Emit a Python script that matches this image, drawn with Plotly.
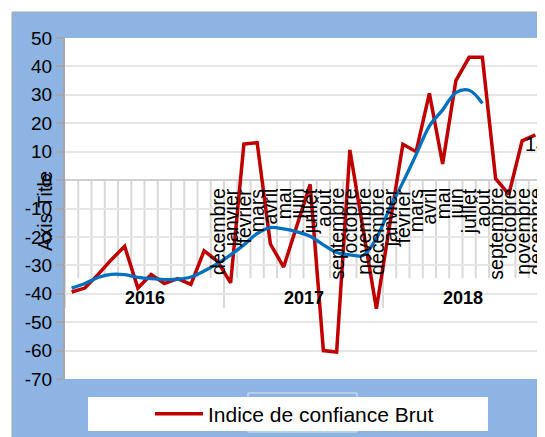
import plotly.graph_objects as go

# ---- data ----
months_fr = ["janvier", "février", "mars", "avril", "mai", "juin", "juillet",
             "août", "septembre", "octobre", "novembre", "décembre"]
years = ["2016", "2017", "2018"]
# month labels shown on the axis (2016 Jan-Nov are blank in the source)
month_labels = [""] * 11 + ["décembre"] + months_fr + months_fr

indice_brut = [-39.4, -38.0, -33.2, -28.0, -23.3, -38.0, -33.2, -36.4, -34.7, -36.7,
               -24.9, -28.5, -36.2, 12.7, 13.2, -22.5, -30.6, -16.0, -1.5, -60.0,
               -60.5, 10.6, -17.0, -45.3, -16.0, 12.6, 10.0, 30.5, 5.7, 35.0,
               43.2, 43.2, 0.5, -5.0, 13.8, 15.9]
tendance = [-38.0, -36.4, -34.3, -33.2, -33.3, -34.2, -34.7, -35.0, -34.9, -34.1,
            -32.0, -29.4, -26.3, -22.8, -18.8, -16.7, -17.2, -18.2, -19.8, -22.8,
            -25.5, -26.3, -26.5, -20.5, -10.0, -0.8, 9.0, 19.0, 24.7, 30.8,
            31.6, 27.0]
y_ticks = [50, 40, 30, 20, 10, 0, -10, -20, -30, -40, -50, -60, -70]

FONT = "Liberation Sans"
n = len(indice_brut)
xi = list(range(n))

fig = go.Figure()
fig.add_trace(go.Scatter(
    x=xi, y=indice_brut, mode="lines", name="Indice de confiance Brut",
    line=dict(color="#C00000", width=3.5), showlegend=True))
fig.add_trace(go.Scatter(
    x=xi[:len(tendance)], y=tendance, mode="lines", name="Tendance",
    line=dict(color="#0070C0", width=3.3, shape="spline", smoothing=1.0),
    showlegend=False))

# page has an 8px body margin: figure origin sits at page (8, 8)
OFF = 8
W, H = 545 - OFF, 437 - OFF
L, T = 65 - OFF, 38 - OFF
R = W - (542 - OFF)
B = H - (379 - OFF)
pw, ph = W - L - R, H - T - B


def px_x(p):
    return (p - OFF - L) / pw


def px_y(p):
    return (H - B - (p - OFF)) / ph


shapes = []
# outer blue chart area
shapes.append(dict(type="rect", xref="paper", yref="paper", layer="below",
                   x0=px_x(12), x1=px_x(560), y0=px_y(450), y1=px_y(12),
                   fillcolor="#8EB4E3", line=dict(color="#A6A6A6", width=1)))
# white plot area
shapes.append(dict(type="rect", xref="paper", yref="paper", layer="below",
                   x0=0, x1=1, y0=0, y1=1, fillcolor="white", line=dict(width=0)))
# faint hidden title box
shapes.append(dict(type="rect", xref="paper", yref="paper", layer="below",
                   x0=px_x(248), x1=px_x(357), y0=px_y(432), y1=px_y(393),
                   fillcolor="rgba(0,0,0,0)", line=dict(color="#DCE6F2", width=1)))
# legend box
shapes.append(dict(type="rect", xref="paper", yref="paper", layer="below",
                   x0=px_x(88), x1=px_x(488), y0=px_y(431), y1=px_y(397),
                   fillcolor="white", line=dict(width=0)))
# category tick lines (month boundaries and year separators)
for k in range(n + 1):
    is_year = (k % 12 == 0)
    shapes.append(dict(type="line", xref="x", yref="y", layer="below",
                       x0=k - 0.5, x1=k - 0.5, y0=0, y1=(-45 if is_year else -34.5),
                       line=dict(color="#D9D9D9", width=2)))

annotations = []
for i, lab in enumerate(month_labels):
    if lab:
        annotations.append(dict(x=i, y=0, xref="x", yref="y", text=lab,
                                textangle=-90, showarrow=False, xanchor="center",
                                yanchor="top", yshift=-6,
                                font=dict(family=FONT, size=19.5, color="black")))
for j, yr in enumerate(years):
    annotations.append(dict(x=12 * j + 5.5, y=-41.6, xref="x", yref="y",
                            text="<b>%s</b>" % yr, showarrow=False,
                            font=dict(family=FONT, size=18, color="black")))
annotations.append(dict(x=px_x(32), y=px_y(211), xref="paper", yref="paper",
                        text="Axis Title", textangle=-90, showarrow=False,
                        font=dict(family=FONT, size=20, color="black")))
annotations.append(dict(x=px_x(523), y=12.7, xref="paper", yref="y", text="14",
                        showarrow=False, xanchor="left", yanchor="middle",
                        font=dict(family=FONT, size=20, color="black")))

fig.update_layout(
    width=W, height=H,
    margin=dict(l=L, r=R, t=T, b=B, pad=0),
    paper_bgcolor="white", plot_bgcolor="rgba(0,0,0,0)",
    font=dict(family=FONT, size=18, color="black"),
    shapes=shapes, annotations=annotations,
    showlegend=True,
    legend=dict(x=px_x(150), y=px_y(414), xanchor="left", yanchor="middle",
                orientation="h", bgcolor="rgba(0,0,0,0)", itemwidth=48,
                font=dict(family=FONT, size=21, color="black")),
    xaxis=dict(range=[-0.5, n - 0.5], showticklabels=False, showgrid=False,
               zeroline=False, showline=False, ticks=""),
    yaxis=dict(range=[-70, 50], tickvals=y_ticks, ticktext=[str(v) for v in y_ticks],
               showgrid=True, gridcolor="#E6E6E6", gridwidth=2,
               zeroline=True, zerolinecolor="#CFCFCF", zerolinewidth=2,
               showline=True, linecolor="#A6A6A6", linewidth=2,
               ticks="outside", ticklen=7, tickcolor="#A6A6A6", tickwidth=2,
               tickfont=dict(family=FONT, size=19, color="black")),
)

fig.write_html("out.html")
